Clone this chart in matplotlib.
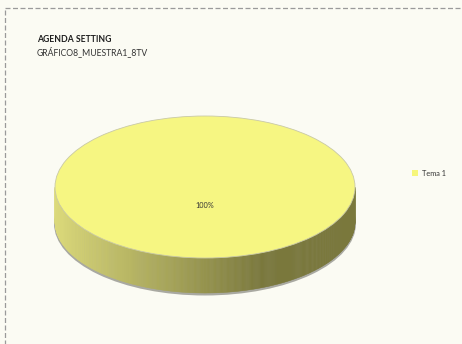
import numpy as np
import matplotlib
matplotlib.use("Agg")
import matplotlib.pyplot as plt
from matplotlib.patches import Ellipse, Polygon, Rectangle, Wedge
from matplotlib.transforms import Affine2D

# Data
categories = ["Tema 1"]
values = [100]
title = "AGENDA SETTING"
subtitle = "GRÁFICO8_MUESTRA1_8TV"

W, H = 462, 344
BG = "#FBFBF3"
TOP = "#F6F682"
SIDE_LIGHT = np.array([220, 218, 122]) / 255
SIDE_DARK = np.array([122, 120, 60]) / 255
FONT = "Lato"

fig = plt.figure(figsize=(W / 100, H / 100), dpi=100, facecolor=BG)
ax = fig.add_axes([0, 0, 1, 1])
ax.set_xlim(0, W)
ax.set_ylim(H, 0)
ax.axis("off")
ax.set_facecolor(BG)

# dashed frame (right and bottom run off the canvas)
ax.add_patch(Rectangle((5, 8), W + 10, H + 10, fill=False, ec="#9A9A9A",
                       lw=0.9, ls=(0, (4, 2)), zorder=1))

# pie geometry (pixel units)
cx, cy, rx, ry, depth = 205, 187, 150, 71, 35

total = float(sum(values))
fracs = [v / total for v in values]

# drop shadow beneath the cylinder
ax.add_patch(Ellipse((cx, cy + depth + 1.5), 2 * rx + 2, 2 * ry + 2,
                     fc="#8E8E86", ec="none", alpha=0.75, zorder=2))

# side wall, drawn as thin vertical strips with a left-to-right shading
t = np.linspace(0, np.pi, 400)
for i in range(len(t) - 1):
    t0, t1 = t[i], t[i + 1]
    x0, x1 = cx + rx * np.cos(t0), cx + rx * np.cos(t1)
    y0, y1 = cy + ry * np.sin(t0), cy + ry * np.sin(t1)
    xm = 0.5 * (x0 + x1)
    k = np.clip((xm - (cx - rx)) / (262 - (cx - rx)), 0, 1)
    col = SIDE_LIGHT * (1 - k) + SIDE_DARK * k
    ax.add_patch(Polygon([[x0, y0], [x1, y1], [x1, y1 + depth], [x0, y0 + depth]],
                         closed=True, fc=col, ec=col, lw=0.3, zorder=3))

# top face: wedges from the data, squashed into an ellipse
squash = Affine2D().scale(rx, ry).translate(cx, cy) + ax.transData
start = 90.0
for f in fracs:
    theta = 360.0 * f
    ax.add_patch(Wedge((0, 0), 1.0, start - theta, start, fc=TOP, ec="#C9C9A6",
                       lw=0.6, transform=squash, zorder=4))
    start -= theta

# percentage label
ax.text(cx, 205, f"{fracs[0] * 100:.0f}%", ha="center", va="center",
        fontsize=5.3, color="#333333", family=FONT, zorder=5)

# titles
ax.text(37, 39, title, ha="left", va="center", fontsize=6.2, fontweight="bold",
        color="#1E1E1E", family=FONT, zorder=5)
ax.text(37, 51.5, subtitle, ha="left", va="center", fontsize=6.2,
        color="#333333", family=FONT, zorder=5)

# legend
handles = [Rectangle((0, 0), 1, 1, fc="#F6F67A", ec="none")]
leg = ax.legend(handles, categories, loc="center left",
                bbox_to_anchor=(405 / W, 1 - 173 / H), frameon=False,
                handlelength=0.8, handleheight=0.8, handletextpad=0.6,
                prop={"family": FONT, "size": 5.3})
for txt in leg.get_texts():
    txt.set_color("#333333")

fig.savefig("out.png", dpi=100, facecolor=BG)
